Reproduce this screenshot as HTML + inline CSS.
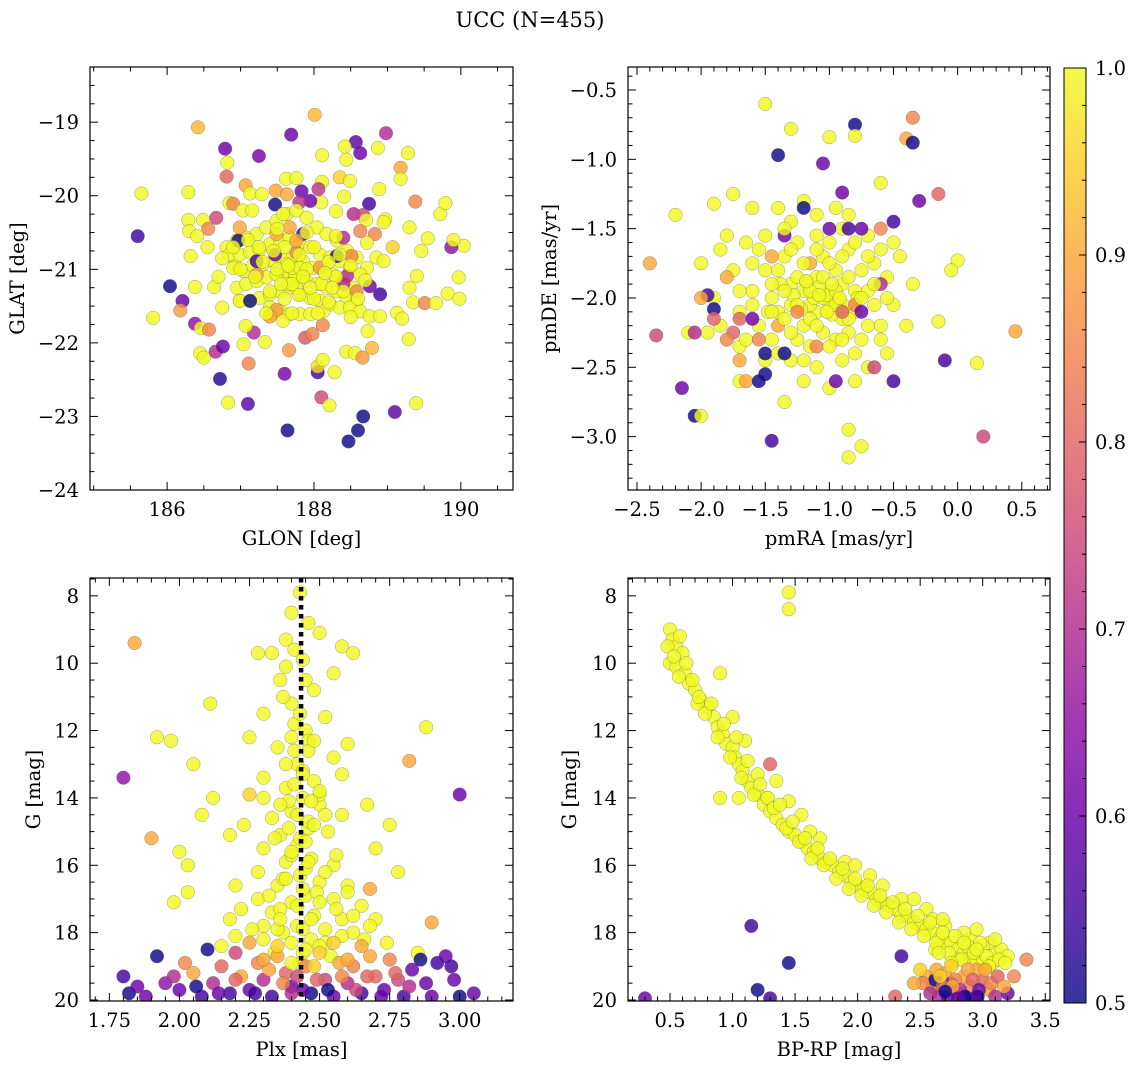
<!DOCTYPE html>
<html><head><meta charset="utf-8">
<style>
html,body{margin:0;padding:0;background:#fff;}
svg{display:block;font-family:"DejaVu Serif","Liberation Serif",serif;}
</style></head>
<body>
<svg id="fig" width="1136" height="1067" viewBox="0 0 1136 1067" xmlns="http://www.w3.org/2000/svg">
<text x="530" y="27" font-size="21" text-anchor="middle">UCC (N=455)</text>
</svg>
<script>
// ---------- Panel 1: GLON / GLAT ----------
const p1Lon=[185.65,185.60,186.42,185.81,186.04,186.21,186.18,186.38,186.46,186.57,186.45,186.50,186.66,186.76,186.72,186.83,187.10,187.64,188.47,188.60,188.67,189.10,189.39,188.10,188.21,187.60,188.05,188.05,188.12,188.28,187.11,187.04,187.33,187.18,187.07,187.66,187.88,187.98,188.12,188.44,188.56,188.66,188.79,188.73,189.29,189.13,189.20,189.35,189.51,189.66,189.82,189.98,189.97,189.40,189.30,190.04,189.87,189.90,189.55,189.46,189.30,189.07,189.72,189.79,189.38,189.18,189.18,189.28,188.89,188.87,188.98,188.57,188.63,188.42,188.44,188.11,188.01,187.69,188.35,188.49,188.41,188.30,188.10,188.11,188.06,187.95,187.83,187.80,188.75,188.54,188.67,188.71,188.97,188.95,188.63,188.83,188.72,186.79,187.25,186.82,186.81,186.29,187.07,187.13,187.29,187.62,187.76,187.48,187.63,186.85,186.90,187.03,187.16,187.47,186.29,186.30,186.49,186.67,186.56,186.41,186.55,186.32,186.38,186.64,186.70,186.75,186.99,186.92,
186.81,186.95,187.08,187.22,187.35,187.49,187.63,187.76,187.90,188.04,188.17,188.31,188.45,188.58,188.72,188.85,188.95,
186.85,186.99,187.13,187.26,187.40,187.54,187.67,187.81,187.95,188.08,188.22,188.35,188.49,188.63,
186.90,187.04,187.17,187.31,187.45,187.58,187.72,187.85,187.99,188.13,188.26,188.40,188.54,
186.95,187.08,187.22,187.35,187.49,187.63,187.76,187.90,188.04,188.17,188.31,188.45,188.58,
186.99,187.13,187.26,187.40,187.54,187.67,187.81,187.95,188.08,188.22,188.35,188.49,188.63,188.76,188.90,
187.40,187.54,187.67,187.81,187.95,188.13,187.58,187.40,
187.67,187.72,187.74,187.70,187.65,187.76,187.81,187.63,
187.22,187.49,187.40,188.40,188.45,188.76,188.90,188.31,188.51,188.58,187.85,188.40,188.08,187.76,187.13,186.97,187.22,187.47,187.49,186.99,187.76,187.67,187.58,
187.3,187.5,187.7,187.9,188.1,188.3,187.6,187.8,188.0,188.2,187.4,187.6,187.8,188.0,188.2,188.4,187.2,187.0,186.9,187.1,188.5,188.6,187.5,187.9,188.3,187.7,188.05,187.35,186.75,188.7,187.85,187.65,188.15,187.45,187.95,188.35,187.25,188.5,187.55,188.25];
const p1Lat=[-19.97,-20.55,-19.07,-21.66,-21.23,-21.43,-21.56,-21.74,-21.80,-21.82,-22.14,-22.20,-22.12,-22.05,-22.49,-22.81,-22.83,-23.19,-23.34,-23.19,-23.00,-22.94,-22.82,-22.74,-22.85,-22.42,-22.40,-22.32,-22.23,-22.40,-22.28,-22.02,-21.99,-21.86,-21.77,-22.10,-21.93,-21.88,-21.76,-22.12,-22.14,-22.20,-22.07,-21.84,-21.95,-21.59,-21.67,-21.45,-21.46,-21.46,-21.33,-21.40,-21.11,-21.09,-21.25,-20.68,-20.70,-20.60,-20.58,-20.75,-20.43,-20.70,-20.25,-20.10,-20.08,-19.62,-19.77,-19.42,-19.91,-19.35,-19.15,-19.27,-19.42,-19.33,-19.51,-19.45,-18.90,-19.17,-19.75,-19.80,-20.01,-20.21,-20.09,-19.81,-19.91,-20.07,-19.94,-20.09,-20.11,-20.25,-20.26,-20.33,-20.32,-20.36,-20.48,-20.52,-20.64,-19.36,-19.46,-19.55,-19.74,-19.95,-19.86,-19.97,-19.98,-19.77,-19.76,-19.93,-19.98,-20.10,-20.11,-20.20,-20.20,-20.12,-20.33,-20.48,-20.33,-20.30,-20.45,-20.55,-20.70,-20.82,-21.24,-21.24,-21.10,-21.52,-21.43,-20.95,
-20.70,-20.61,-20.57,-20.52,-20.43,-20.34,-20.25,-20.20,-20.30,-20.43,-20.52,-20.61,-20.75,-20.84,-20.98,-20.84,-20.89,
-20.80,-20.80,-20.77,-20.73,-20.66,-20.61,-20.57,-20.66,-20.70,-20.80,-20.84,-20.89,-20.98,-21.07,
-20.98,-21.02,-20.95,-20.93,-20.89,-20.84,-20.80,-20.89,-20.98,-21.02,-21.07,-21.16,-21.25,
-21.25,-21.20,-21.16,-21.11,-21.07,-21.02,-21.07,-21.16,-21.20,-21.25,-21.30,-21.39,-21.43,
-21.43,-21.43,-21.39,-21.34,-21.30,-21.25,-21.34,-21.39,-21.43,-21.48,-21.52,-21.52,-21.57,-21.64,-21.64,
-21.52,-21.57,-21.61,-21.61,-21.61,-21.57,-21.70,-21.64,
-21.11,-21.16,-21.07,-20.98,-21.20,-21.25,-20.98,-20.93,
-21.07,-21.55,-21.64,-21.20,-21.09,-21.23,-21.34,-20.82,-20.82,-21.30,-20.52,-20.57,-20.98,-20.77,-21.43,-20.61,-20.89,-20.80,-20.52,-20.43,-20.61,-20.43,-20.25,
-20.9,-21.0,-21.2,-21.0,-21.2,-21.1,-20.7,-20.8,-20.7,-20.9,-21.3,-21.4,-21.35,-21.4,-21.45,-21.3,-21.1,-21.0,-20.7,-20.6,-20.95,-21.4,-20.45,-20.5,-20.55,-21.6,-21.6,-21.6,-20.85,-21.15,-21.1,-20.95,-21.05,-20.75,-21.25,-20.8,-20.7,-21.65,-21.2,-21.25];
const p1C=[1,.55,.92,1,.5,.6,.88,.65,1,.85,1,1,.7,.6,.52,1,.58,.5,.5,.5,.5,.58,1,.75,1,.62,.55,.97,1,1,.85,1,1,.7,1,.88,.78,.85,.85,1,1,.88,.92,1,1,1,1,1,.85,1,1,1,1,1,1,1,.65,1,1,1,1,.95,1,1,.85,.9,1,1,1,1,.7,.58,.6,1,1,1,.92,.6,.95,1,1,1,1,1,.72,.6,.6,.72,.55,.7,.75,1,1,1,.85,.85,1,.6,.62,1,.8,1,.9,1,1,1,1,.9,.9,1,.85,1,1,.5,1,1,1,.75,.85,1,1,1,1,1,1,1,1,1,
1,1,1,1,1,1,1,1,1,1,1,1,1,1,1,1,1,
1,1,1,1,1,1,1,1,1,1,1,1,1,1,
1,1,1,1,1,1,1,1,1,1,1,1,1,
1,1,1,1,1,1,1,1,1,1,1,1,1,
1,1,1,1,1,1,1,1,1,1,1,1,1,1,1,
1,1,1,1,1,1,1,1,
1,1,1,1,1,1,1,1,
.88,.88,.9,.7,.7,.6,.55,.5,.85,.85,.55,.7,.88,.85,.5,.5,.55,.6,.9,.9,.9,.9,1,
1,1,1,1,1,1,1,1,1,1,1,1,1,1,1,1,1,1,1,1,1,1,1,1,1,1,1,1,1,1,1,1,1,1,1,1,1,1,1,1];

// ---------- Panel 2: pmRA / pmDE ----------
const p2RA=[-1.5,-0.35,-0.4,-0.35,-0.8,-1.4,-1.3,-0.8,-1.9,-2.2,-2.4,-2.35,-2.15,-2.05,-2.0,-1.45,-0.85,-0.85,-0.75,0.2,0.45,0.15,-0.1,-0.5,-0.15,0.0,-0.05,-0.15,-0.5,-0.3,-0.6,-0.9,-1.05,-1.0,-1.75,-0.45,
-1.6,-1.5,-1.4,-1.3,-1.2,-1.1,-1.0,-0.9,-0.8,-0.7,-0.6,-1.55,-1.45,-1.35,-1.25,-1.15,-1.05,-0.95,-0.85,-0.75,-0.65,-1.2,-1.1,-1.0,-0.9,-1.05,-1.15,-0.95,-1.3,-0.8,-1.7,-1.75,-1.65,-1.5,-1.3,-1.1,-0.9,-0.7,-0.55,-0.5,-0.55,-0.7,-0.9,-1.1,-1.3,-1.5,-1.7,-1.85,-1.9,-1.8,-1.2,-1.0,-0.8,-1.2,-0.95,-1.4,-2.0,-1.95,-2.1,-1.7,-1.35,-0.5,-0.35,-0.4,-1.6,-1.85,-1.25,-0.85,-1.45,-0.65,
-1.12,-1.02,-0.92,-1.22,-1.08,-0.98,-1.18,-0.88,-1.28,-1.38,-0.78,-1.48,
-1.95,-1.9,-1.7,-1.75,-1.6,-1.5,-1.5,-1.35,-1.2,-1.0,-0.85,-0.8,-0.75,-0.6,-0.6,-0.95,-0.65,-1.1,-2.05,-1.65,-1.8,-1.45,-1.4,-1.15,-2.0,
-1.25,-1.15,-1.05,-0.95,-0.85,-1.25,-1.15,-1.05,-0.95,-0.85,-1.35,-1.35,-0.75,-0.75,-1.2,-1.0,-0.9,-1.1,-1.3,-1.4,-1.45,-1.45,-1.3,-1.1,-0.9,-0.7,-0.65,-0.7,-0.8,-1.0,-1.2,-1.0,-0.8,-1.4,-1.6,-1.6,-1.55,-0.6,-0.55,-0.6,-1.7,-1.65,-1.1,-0.85,-1.35,-1.02,-1.08,-0.98,-1.18,-0.92,
-1.25,-0.9,-1.55,-1.9,-1.8,-1.7,-1.55,-1.35,-0.75];
const p2DE=[-0.6,-0.7,-0.85,-0.88,-0.75,-0.97,-0.78,-0.83,-1.32,-1.4,-1.75,-2.27,-2.65,-2.85,-2.85,-3.03,-2.95,-3.15,-3.07,-3.0,-2.24,-2.47,-2.45,-2.6,-2.17,-1.73,-1.8,-1.25,-1.45,-1.3,-1.17,-1.24,-1.03,-0.84,-1.25,-1.7,
-1.95,-1.8,-2.1,-1.9,-2.2,-1.85,-2.05,-1.9,-2.1,-1.95,-2.2,-2.2,-2.3,-1.7,-1.6,-2.35,-1.7,-2.3,-1.65,-2.3,-1.75,-1.95,-2.1,-1.95,-2.15,-2.0,-2.05,-1.8,-2.05,-1.95,-2.1,-1.8,-1.6,-1.55,-1.45,-1.55,-1.5,-1.55,-1.85,-2.05,-2.4,-2.5,-2.45,-2.5,-2.45,-2.45,-2.35,-2.2,-2.0,-1.55,-2.6,-2.65,-2.6,-1.3,-1.35,-1.35,-1.75,-2.25,-2.25,-2.6,-2.75,-1.6,-1.9,-2.2,-1.35,-1.65,-2.3,-2.25,-2.0,-2.05,
-2.0,-1.98,-2.02,-2.08,-1.92,-2.12,-1.88,-2.06,-1.98,-1.9,-2.0,-2.1,
-1.98,-2.08,-2.15,-2.25,-2.15,-2.4,-2.55,-1.55,-1.35,-1.5,-1.5,-2.05,-2.1,-1.9,-1.5,-2.6,-2.5,-2.35,-2.25,-2.6,-1.85,-1.7,-2.2,-1.75,-2.0,
-1.85,-1.95,-1.85,-1.95,-1.85,-2.05,-2.15,-2.25,-2.05,-2.15,-1.95,-2.15,-2.0,-1.8,-1.75,-1.75,-1.7,-1.65,-1.65,-1.8,-1.9,-2.1,-2.25,-2.2,-2.3,-2.2,-1.9,-1.7,-1.6,-1.6,-2.45,-2.35,-2.4,-2.4,-2.05,-1.75,-1.65,-1.65,-2.0,-2.3,-1.95,-2.3,-1.4,-1.4,-1.5,-2.1,-1.98,-1.9,-1.88,-2.0,
-2.1,-2.1,-2.3,-2.15,-2.3,-2.45,-2.6,-2.4,-1.5];
const p2C=[1,.85,.9,.5,.5,.5,1,1,1,1,.9,.75,.6,.5,1,.55,1,1,1,.75,.9,1,.55,.55,1,1,1,.8,.55,.6,1,.6,.6,1,1,1,
1,1,1,1,1,1,1,1,1,1,1,1,1,1,1,1,1,1,1,1,1,1,1,1,1,1,1,1,1,1,1,1,1,1,1,1,1,1,1,1,1,1,1,1,1,1,1,1,1,1,1,1,1,1,1,1,1,1,1,1,1,1,1,1,1,1,1,1,1,1,
1,1,1,1,1,1,1,1,1,1,1,1,
.55,.5,.8,.8,.6,.5,.5,.6,.5,.6,.55,.85,.6,.7,.85,.6,.75,.85,.7,.9,.9,.9,.9,.9,.9,
1,1,1,1,1,1,1,1,1,1,1,1,1,1,1,1,1,1,1,1,1,1,1,1,1,1,1,1,1,1,1,1,1,1,1,1,1,1,1,1,1,1,1,1,1,1,1,1,1,1,
.85,.8,.85,.8,.85,.9,.5,.5,.6];

// ---------- Panel 3: Plx / G ----------
const p3Plx=[2.43,2.40,2.46,2.38,2.50,2.33,2.58,2.44,2.55,2.36,2.28,2.62,2.48,2.40,2.30,2.52,2.60,2.45,2.35,2.25,2.55,2.42,2.48,2.38,2.30,2.58,2.44,2.40,2.50,2.33,2.46,2.36,2.53,2.42,2.47,2.38,2.30,2.55,2.43,2.50,2.35,2.45,2.40,2.55,2.28,2.60,2.33,2.48,2.42,2.52,2.37,2.58,2.65,2.22,2.47,2.30,2.62,2.70,2.20,2.12,2.08,2.05,1.97,1.92,2.11,2.00,2.03,1.98,2.03,2.18,2.23,2.25,2.58,2.67,2.70,2.78,2.88,2.82,2.75,1.84,1.90,2.90,2.68,
2.41,2.44,2.39,2.46,2.43,2.40,2.45,2.37,2.49,2.42,2.47,2.35,2.52,2.44,2.41,2.38,2.46,2.50,2.43,2.36,
2.40,2.46,2.38,2.44,2.50,2.36,2.42,2.48,2.34,2.40,2.46,2.52,2.38,2.44,2.32,2.50,2.56,2.36,2.44,2.30,2.58,2.40,2.50,2.26,2.62,2.20,2.66,2.34,2.54,2.45,2.39,2.47,2.41,2.43,2.37,2.45,2.41,2.48,2.52,2.56,2.30,2.28,2.60,2.68,2.18,2.74,2.15,2.85,
1.80,3.00,1.80,1.82,1.88,1.92,1.95,2.00,2.02,2.05,2.08,2.10,2.12,2.15,2.18,2.20,2.22,2.25,2.28,2.30,2.33,2.35,2.38,2.40,2.45,2.47,2.50,2.52,2.55,2.57,2.60,2.62,2.65,2.68,2.70,2.73,2.75,2.78,2.80,2.83,2.86,2.88,2.92,2.95,2.98,3.00,3.05,2.35,2.55,2.25,2.65,2.45,2.40,
1.85,1.98,2.06,2.14,2.20,2.27,2.32,2.37,2.42,2.44,2.49,2.53,2.58,2.63,2.67,2.72,2.77,2.82,2.90,2.97,2.48,2.30,2.60,2.40];
const p3G=[7.9,8.5,8.8,9.3,9.1,9.7,9.5,9.9,10.3,10.5,9.7,9.7,10.8,11.2,11.5,11.6,12.4,12.0,12.5,12.2,12.8,13.0,13.5,13.7,13.4,13.3,14.0,14.4,14.2,14.6,14.9,15.1,15.0,15.4,15.8,15.9,15.5,16.0,16.3,16.5,16.6,16.9,17.1,17.0,17.0,16.6,17.4,17.5,17.8,17.9,18.0,17.6,17.2,17.3,18.2,18.2,18.0,17.6,16.6,14.0,14.5,13.0,12.3,12.2,11.2,15.6,16.0,17.1,16.8,15.1,14.8,13.9,14.5,14.2,15.5,16.2,11.9,12.9,14.8,9.4,15.2,17.7,16.7,
12.6,13.2,14.1,14.7,15.2,15.7,16.1,16.4,16.8,17.2,17.6,17.9,18.3,18.6,11.8,10.1,12.3,13.9,18.9,17.3,
12.2,12.6,13.0,13.3,13.8,14.2,14.5,14.8,15.2,15.6,15.9,16.2,16.4,16.7,16.9,17.1,17.3,17.6,17.9,17.8,18.1,18.3,18.4,17.9,17.5,18.1,18.2,18.6,18.7,15.3,14.9,14.1,13.6,11.5,11.0,10.5,9.6,12.3,14.5,15.7,14.0,16.2,16.8,17.8,17.6,18.3,18.4,18.6,
13.4,13.9,19.3,19.8,19.9,18.7,19.5,19.7,18.9,19.2,19.9,18.5,19.5,19.0,19.8,18.6,19.3,19.7,18.9,19.4,19.9,18.7,19.2,19.6,19.0,19.8,18.6,19.4,19.9,18.9,19.5,19.0,19.8,18.7,19.3,19.7,18.8,19.4,19.9,19.1,18.8,19.5,18.9,18.7,19.4,19.9,19.8,18.4,18.3,18.3,18.4,18.5,18.9,
19.6,19.3,19.6,19.8,19.4,19.8,19.1,19.5,19.3,19.7,19.4,19.7,19.3,19.7,19.3,19.9,19.2,19.6,19.9,19.0,19.0,18.8,18.8,19.8];
const p3C=[1,1,1,1,1,1,1,1,1,1,1,1,1,1,1,1,1,1,1,1,1,1,1,1,1,1,1,1,1,1,1,1,1,1,1,1,1,1,1,1,1,1,1,1,1,1,1,1,1,1,1,1,1,1,1,1,1,1,1,1,1,1,1,1,1,1,1,1,1,1,1,.95,1,1,1,1,1,.9,1,.9,.9,.9,.9,
1,1,1,1,1,1,1,1,1,1,1,1,1,1,1,1,1,1,1,1,
1,1,1,1,1,1,1,1,1,1,1,1,1,1,1,1,1,1,1,1,1,1,1,1,1,1,1,1,1,1,1,1,1,1,1,1,1,1,1,1,1,1,1,1,1,1,1,1,
.65,.6,.55,.5,.6,.5,.65,.6,.85,.9,.55,.5,.7,.8,.55,.75,.9,.6,.85,.7,.55,.9,.8,.6,.85,.5,.95,.75,.6,.9,.7,.85,.55,.9,.8,.6,.85,.75,.55,.6,.5,.6,.55,.6,.6,.5,.6,.95,.95,.9,.9,1,1,
.6,.7,.5,.6,.8,.55,.9,.85,.75,.6,.8,.5,.85,.75,.8,.6,.8,.7,.6,.55,.95,.9,.9,.7];

// ---------- Panel 4: BP-RP / G ----------
const p4BR=[0.50,0.52,0.55,0.58,0.60,0.50,0.55,0.62,0.65,0.70,0.75,0.80,0.85,0.88,0.92,0.95,1.00,1.02,1.05,1.08,1.12,1.15,1.20,1.25,1.30,1.35,1.40,1.45,1.50,1.55,1.60,1.65,1.70,1.75,1.80,1.85,1.90,1.95,2.00,2.05,2.10,2.15,2.20,2.25,2.30,2.35,2.40,2.45,2.50,2.55,2.60,2.65,2.70,2.75,2.80,2.85,2.90,2.95,3.00,3.05,3.10,3.15,2.90,2.95,2.70,3.05,3.20,
0.90,1.00,1.10,1.30,1.35,1.20,1.55,1.70,1.45,1.90,2.10,2.20,2.45,2.55,2.60,0.90,1.05,1.45,1.45,0.72,1.28,1.62,1.98,2.35,2.68,2.85,3.00,2.80,3.10,2.62,
0.48,0.53,0.57,0.63,0.68,0.73,0.78,0.83,0.88,0.93,0.98,1.03,1.07,1.12,1.17,1.22,1.28,1.33,1.38,1.43,1.48,1.53,1.58,1.63,1.68,1.73,1.78,1.83,1.88,1.93,1.98,2.03,2.08,2.13,2.18,2.23,2.28,2.33,2.38,2.43,2.48,2.53,2.58,2.63,2.68,2.73,2.78,2.83,2.88,2.93,2.98,3.03,3.08,3.13,3.18,2.65,2.75,2.95,3.05,2.85,
2.30,2.35,2.55,2.60,2.65,2.70,2.75,2.80,2.85,2.90,2.95,3.00,3.05,3.10,3.20,3.35,2.75,2.62,2.85,1.15,1.45,1.20,1.30,0.30,2.50,2.95,
2.52,2.58,2.63,2.68,2.72,2.78,2.82,2.88,2.92,2.97,3.02,3.07,3.12,3.17,2.66,2.76,2.86,2.96,2.80,2.70,3.25,2.45];
const p4G=[9.0,9.3,9.5,9.2,9.7,10.0,10.1,10.3,10.6,10.8,11.1,11.3,11.6,11.9,12.1,12.4,12.5,12.8,13.0,13.2,13.5,13.7,13.9,14.2,14.4,14.6,14.8,15.0,15.1,15.3,15.5,15.6,15.8,15.9,16.0,16.2,16.3,16.5,16.6,16.7,16.8,17.0,17.1,17.2,17.3,17.5,17.5,17.7,17.8,17.9,18.0,18.2,18.3,18.3,18.5,18.6,18.7,18.8,18.9,19.0,18.6,18.5,18.2,17.9,17.8,18.3,18.7,
10.3,11.6,12.3,13.0,13.5,13.3,14.5,15.2,14.1,15.9,16.3,16.6,17.0,17.3,17.6,14.0,14.0,7.9,8.4,11.2,14.0,15.0,16.0,17.0,17.6,18.0,18.4,18.8,18.2,18.5,
9.5,9.8,10.4,10.0,10.5,11.0,11.5,11.2,12.2,11.8,12.8,12.2,13.4,12.9,13.9,13.6,14.0,14.3,14.2,14.9,14.7,15.3,15.2,15.8,15.5,16.0,15.8,16.4,16.1,16.7,16.4,16.9,16.6,17.2,16.9,17.4,17.1,17.7,17.3,17.9,17.5,18.1,17.7,18.3,18.0,18.6,18.1,18.8,18.4,18.6,18.3,18.7,18.9,18.8,18.9,18.6,18.9,18.5,19.0,18.3,
19.9,18.7,19.3,19.6,19.9,19.2,19.5,19.8,19.3,19.6,19.9,19.4,19.7,19.9,19.8,18.8,19.0,19.4,19.9,17.8,18.9,19.7,19.95,19.95,19.1,19.1,
19.5,19.8,19.1,19.6,19.9,19.4,19.7,19.1,19.4,19.7,19.1,19.5,19.3,19.6,19.3,19.6,19.9,19.9,19.95,19.75,19.3,19.5];
const p4C=[1,1,1,1,1,1,1,1,1,1,1,1,1,1,1,1,1,1,1,1,1,1,1,1,1,1,1,1,1,1,1,1,1,1,1,1,1,1,1,1,1,1,1,1,1,1,1,1,1,1,1,1,1,1,1,1,1,1,1,1,1,1,1,1,1,1,1,
1,1,1,.8,1,1,1,1,1,1,1,1,1,1,1,1,1,1,1,1,1,1,1,1,1,1,1,1,1,1,
1,1,1,1,1,1,1,1,1,1,1,1,1,1,1,1,1,1,1,1,1,1,1,1,1,1,1,1,1,1,1,1,1,1,1,1,1,1,1,1,1,1,1,1,1,1,1,1,1,1,1,1,1,1,1,1,1,1,1,1,
.8,.55,.9,.85,.7,.9,.6,.75,.9,.85,.6,.8,.9,.7,.6,.85,.95,.5,.55,.55,.5,.5,.55,.6,.95,.9,
.85,.7,.9,.8,.6,.85,.7,.9,.8,.6,.9,.85,.8,.9,.95,.9,.5,.55,.6,.5,.85,.9];

// ---------- axis ticks / labels ----------
const p1XTicks=[186,188,190];
const p1YTicks=[-19,-20,-21,-22,-23,-24];
const p2XTicks=[-2.5,-2.0,-1.5,-1.0,-0.5,0.0,0.5];
const p2YTicks=[-0.5,-1.0,-1.5,-2.0,-2.5,-3.0];
const p3XTicks=[1.75,2.00,2.25,2.50,2.75,3.00];
const gTicks=[8,10,12,14,16,18,20];
const p4XTicks=[0.5,1.0,1.5,2.0,2.5,3.0,3.5];
const cbTicks=[0.5,0.6,0.7,0.8,0.9,1.0];
const plxMedian=[2.434];

const NS='http://www.w3.org/2000/svg';
const svg=document.getElementById('fig');
const FS=19.5;
function mk(tag,attrs,parent){const e=document.createElementNS(NS,tag);for(const k in attrs)e.setAttribute(k,attrs[k]);(parent||svg).appendChild(e);return e;}

const stops=[[13,8,135],[65,4,157],[106,0,168],[143,13,164],[177,42,144],[204,71,120],[225,100,98],[242,132,75],[252,166,54],[252,206,37],[240,249,33]];
function plasma(t){t=Math.max(0,Math.min(1,t));const f=t*10,i=Math.min(9,Math.floor(f)),u=f-i;const a=stops[i],b=stops[i+1];return 'rgb('+a.map((v,k)=>Math.round(v+(b[k]-v)*u)).join(',')+')';}
function cnorm(c){return (c-0.5)/0.5;}
function fmt(v,d){const s=Math.abs(v).toFixed(d);return (v<0?'\u2212':'')+s;}

function panel(o){
  const g=mk('g',{});
  
  
  const sx=v=>o.px0+(v-o.x0)/(o.x1-o.x0)*(o.px1-o.px0);
  const sy=v=>o.py0+(v-o.y0)/(o.y1-o.y0)*(o.py1-o.py0);
  const clip='clip-'+o.name;
  const cp=mk('clipPath',{id:clip},g);
  mk('rect',{x:o.px0,y:o.py0,width:o.px1-o.px0,height:o.py1-o.py0},cp);
  const pts=mk('g',{'clip-path':'url(#'+clip+')'},g);
  
  
  for(let i=0;i<o.xs.length;i++){
    const c=mk('circle',{cx:sx(o.xs[i]).toFixed(1),cy:sy(o.ys[i]).toFixed(1),r:6.8,fill:plasma(cnorm(o.cs[i])),'fill-opacity':0.82,stroke:'#555','stroke-opacity':0.55,'stroke-width':0.5},pts);
    
    
  }
  if(o.vline){
    const l=mk('line',{x1:sx(o.vline[0]),x2:sx(o.vline[0]),y1:o.py0,y2:o.py1,stroke:'#000','stroke-width':4.5,'stroke-dasharray':'4.5 4.5'},g);
    
    
  }
  mk('rect',{x:o.px0,y:o.py0,width:o.px1-o.px0,height:o.py1-o.py0,fill:'none',stroke:'#000','stroke-width':1.2},g);
  const tk=mk('g',{stroke:'#000','stroke-width':1},g);
  const xmin=Math.min(o.x0,o.x1),xmax=Math.max(o.x0,o.x1),ymin=Math.min(o.y0,o.y1),ymax=Math.max(o.y0,o.y1);
  for(let v=Math.ceil(xmin/o.xmin-1e-6)*o.xmin;v<=xmax+1e-9;v+=o.xmin){const X=sx(v);const maj=Math.abs(v/o.xmaj-Math.round(v/o.xmaj))<1e-4;const L=maj?8:4.5;
    mk('line',{x1:X,x2:X,y1:o.py1,y2:o.py1-L},tk);mk('line',{x1:X,x2:X,y1:o.py0,y2:o.py0+L},tk);}
  for(let v=Math.ceil(ymin/o.ymin-1e-6)*o.ymin;v<=ymax+1e-9;v+=o.ymin){const Y=sy(v);const maj=Math.abs(v/o.ymaj-Math.round(v/o.ymaj))<1e-4;const L=maj?8:4.5;
    mk('line',{x1:o.px0,x2:o.px0+L,y1:Y,y2:Y},tk);mk('line',{x1:o.px1,x2:o.px1-L,y1:Y,y2:Y},tk);}
  o.xticks.forEach(v=>{const t=mk('text',{x:sx(v),y:o.py1+26,'font-size':FS,'text-anchor':'middle'},g);t.textContent=fmt(v,o.xd);
    });
  o.yticks.forEach(v=>{const t=mk('text',{x:o.px0-11,y:sy(v)+7,'font-size':FS,'text-anchor':'end'},g);t.textContent=fmt(v,o.yd);
    });
  const xl=mk('text',{x:(o.px0+o.px1)/2,y:o.py1+55,'font-size':FS,'text-anchor':'middle'},g);xl.textContent=o.xlabel;
  
  const yc=(o.py0+o.py1)/2;
  const yl=mk('text',{x:o.ylx,y:yc,'font-size':FS,'text-anchor':'middle',transform:'rotate(-90 '+o.ylx+' '+yc+')'},g);yl.textContent=o.ylabel;
  
}

panel({name:'glon-glat-panel',xs:p1Lon,ys:p1Lat,cs:p1C,x0:184.95,x1:190.71,px0:90,px1:513,y0:-18.25,y1:-24.0,py0:67,py1:490,xmin:0.5,xmaj:2,ymin:0.25,ymaj:1,xticks:p1XTicks,yticks:p1YTicks,xd:0,yd:0,xlabel:'GLON [deg]',ylabel:'GLAT [deg]',ylx:24});
panel({name:'pm-panel',xs:p2RA,ys:p2DE,cs:p2C,x0:-2.57,x1:0.72,px0:628,px1:1050,y0:-0.334,y1:-3.385,py0:67,py1:490,xmin:0.1,xmaj:0.5,ymin:0.1,ymaj:0.5,xticks:p2XTicks,yticks:p2YTicks,xd:1,yd:1,xlabel:'pmRA [mas/yr]',ylabel:'pmDE [mas/yr]',ylx:556});
panel({name:'plx-g-panel',xs:p3Plx,ys:p3G,cs:p3C,x0:1.681,x1:3.19,px0:90,px1:513,y0:7.47,y1:20.03,py0:578,py1:1001,xmin:0.05,xmaj:0.25,ymin:0.5,ymaj:2,xticks:p3XTicks,yticks:gTicks,xd:2,yd:0,xlabel:'Plx [mas]',ylabel:'G [mag]',ylx:40,vline:plxMedian});
panel({name:'cmd-panel',xs:p4BR,ys:p4G,cs:p4C,x0:0.164,x1:3.538,px0:628,px1:1050,y0:7.47,y1:20.03,py0:578,py1:1001,xmin:0.1,xmaj:0.5,ymin:0.5,ymaj:2,xticks:p4XTicks,yticks:gTicks,xd:1,yd:0,xlabel:'BP-RP [mag]',ylabel:'G [mag]',ylx:576});

// ---------- colorbar ----------
(function(){
  const cb=mk('g',{});
  
  
  const x0=1064,x1=1086,y0=68,y1=1003,v0=0.5,v1=1.0;
  const defs=mk('defs',{},cb);
  const lg=mk('linearGradient',{id:'cbgrad',x1:0,y1:1,x2:0,y2:0},defs);
  for(let i=0;i<=10;i++){mk('stop',{offset:(i*10)+'%','stop-color':plasma(i/10),'stop-opacity':0.82},lg);}
  mk('rect',{x:x0,y:y0,width:x1-x0,height:y1-y0,fill:'url(#cbgrad)',stroke:'#000','stroke-width':1},cb);
  const sy=v=>y1-(v-v0)/(v1-v0)*(y1-y0);
  for(let k=0;k<=25;k++){const v=v0+k*0.02;const maj=k%5===0;mk('line',{x1:x1,x2:x1-(maj?7:4),y1:sy(v),y2:sy(v),stroke:'#000','stroke-width':1},cb);}
  cbTicks.forEach(v=>{const t=mk('text',{x:x1+9,y:sy(v)+7,'font-size':FS},cb);t.textContent=v.toFixed(1);
    });
})();
</script>
</body></html>
